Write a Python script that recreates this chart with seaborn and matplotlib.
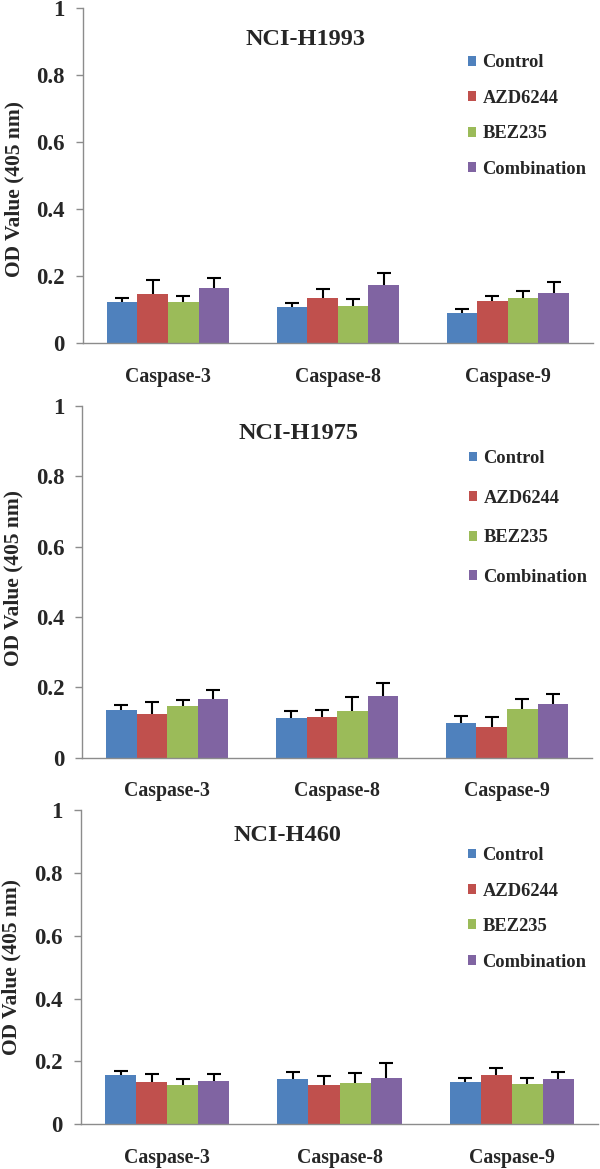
import numpy as np
import pandas as pd
import matplotlib
matplotlib.use("Agg")
import matplotlib.pyplot as plt
import seaborn as sns

# Data (rows = treatment, columns = caspase)
caspases = ["Caspase-3", "Caspase-8", "Caspase-9"]
treatments = ["Control", "AZD6244", "BEZ235", "Combination"]
cell_lines = ["NCI-H1993", "NCI-H1975", "NCI-H460"]
colors = ["#4F81BD", "#C0504D", "#9BBB59", "#8064A2"]

h1993_mean = [[0.121, 0.108, 0.089],
              [0.145, 0.134, 0.124],
              [0.121, 0.111, 0.135],
              [0.165, 0.174, 0.150]]
h1993_err = [[0.014, 0.012, 0.012],
             [0.043, 0.027, 0.017],
             [0.019, 0.019, 0.019],
             [0.028, 0.036, 0.032]]

h1975_mean = [[0.136, 0.112, 0.100],
              [0.125, 0.115, 0.088],
              [0.147, 0.132, 0.138],
              [0.166, 0.176, 0.152]]
h1975_err = [[0.014, 0.022, 0.020],
             [0.033, 0.021, 0.027],
             [0.017, 0.042, 0.029],
             [0.027, 0.035, 0.030]]

h460_mean = [[0.156, 0.144, 0.134],
             [0.134, 0.126, 0.156],
             [0.126, 0.132, 0.129],
             [0.137, 0.148, 0.145]]
h460_err = [[0.015, 0.021, 0.015],
            [0.026, 0.029, 0.023],
            [0.019, 0.031, 0.018],
            [0.023, 0.047, 0.023]]

yticks = [0, 0.2, 0.4, 0.6, 0.8, 1]
ytick_labels = ["0", "0.2", "0.4", "0.6", "0.8", "1"]

sns.set_style("white")
plt.rcParams["font.family"] = ["Liberation Serif", "DejaVu Serif"]
plt.rcParams["font.weight"] = "bold"

fig = plt.figure(figsize=(6, 11.69), dpi=100)

# [left, bottom, width, height], title x, title y, legend anchor, legend spacing, ylabel y
panels = [
    (h1993_mean, h1993_err, [0.1383, 0.7066, 0.8495, 0.2866], 0.436, 0.905, (0.755, 0.862), 1.0, 0.46),
    (h1975_mean, h1975_err, [0.1372, 0.3518, 0.8495, 0.3011], 0.424, 0.92, (0.758, 0.874), 1.22, 0.51),
    (h460_mean, h460_err, [0.1350, 0.0382, 0.8617, 0.2689], 0.400, 0.92, (0.748, 0.882), 1.0, 0.5),
]

for name, (means, errs, rect, tx, ty, lanchor, lspace, ly) in zip(cell_lines, panels):
    ax = fig.add_axes(rect)
    rows = []
    for i, t in enumerate(treatments):
        for j, c in enumerate(caspases):
            rows.append({"caspase": c, "treatment": t, "od": means[i][j]})
    df = pd.DataFrame(rows)

    sns.barplot(data=df, x="caspase", y="od", hue="treatment", hue_order=treatments,
                order=caspases, palette=colors, width=0.72, errorbar=None,
                saturation=1, linewidth=0, ax=ax)

    # upper-only error bars on each bar
    bar_groups = list(ax.containers)
    for i, cont in enumerate(bar_groups):
        xs = [b.get_x() + b.get_width() / 2 for b in cont]
        hs = [b.get_height() for b in cont]
        eb = ax.errorbar(xs, hs, yerr=[np.zeros(len(hs)), errs[i]], fmt="none",
                         ecolor="black", elinewidth=1.5, capsize=4.8, capthick=1.5, zorder=3)
        eb[1][0].set_visible(False)

    ax.set_ylim(0, 1)
    ax.set_xlim(-0.5, 2.5)
    ax.set_yticks(yticks)
    ax.set_yticklabels(ytick_labels, fontsize=16.5, fontweight="bold")
    ax.set_xticks([0, 1, 2])
    ax.set_xticklabels(caspases, fontsize=14.3, fontweight="bold")
    ax.set_xticks([-0.5, 0.5, 1.5, 2.5], minor=True)
    ax.tick_params(axis="x", which="major", length=0, pad=17)
    ax.tick_params(axis="x", which="minor", length=6, width=1, color="#8c8c8c", direction="out")
    ax.tick_params(axis="y", length=5, width=1, color="#8c8c8c", direction="out", pad=8, left=True)
    ax.set_xlabel("")
    ax.set_ylabel("OD Value (405 nm)", fontsize=15.5, fontweight="bold")
    ax.yaxis.set_label_coords(-0.115, ly)

    sns.despine(ax=ax)
    for s in ["left", "bottom"]:
        ax.spines[s].set_color("#8c8c8c")
        ax.spines[s].set_linewidth(1)

    ax.text(tx, ty, name, transform=ax.transAxes, ha="center", va="center",
            fontsize=17.5, fontweight="bold")

    ax.legend(loc="upper left", bbox_to_anchor=lanchor, frameon=False,
              prop={"size": 13.3, "weight": "bold"}, handlelength=0.45, handleheight=0.45,
              handletextpad=0.35, labelspacing=lspace, borderpad=0, borderaxespad=0)

fig.savefig("out.png", dpi=100)
